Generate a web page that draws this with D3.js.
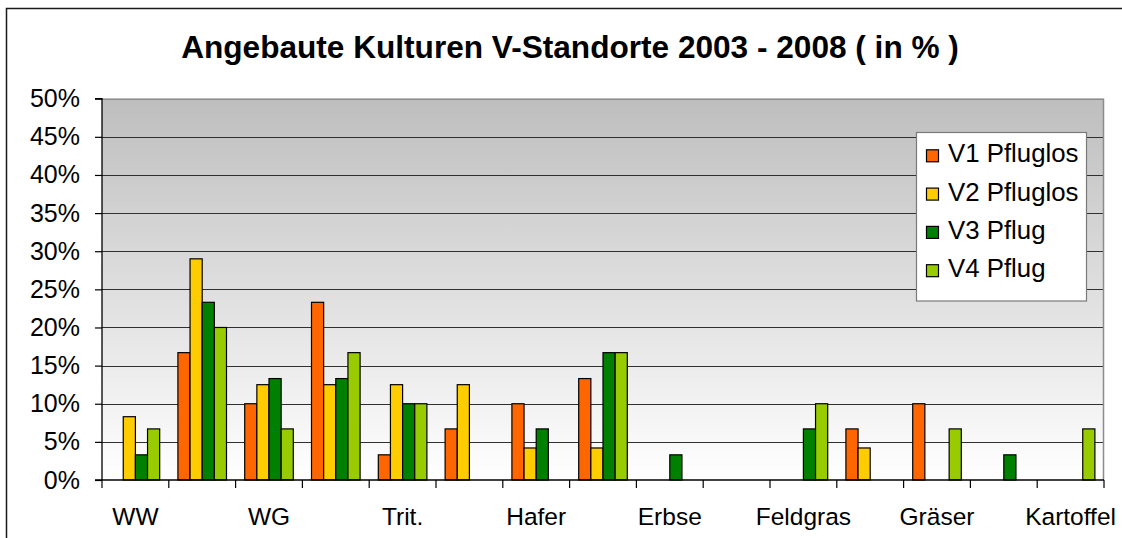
<!DOCTYPE html>
<html>
<head>
<meta charset="utf-8">
<script src="https://cdn.jsdelivr.net/npm/d3@7"></script>
<style>
  html, body { margin: 0; padding: 0; background: #fff; }
  svg { display: block; font-family: "Liberation Sans", Arial, sans-serif; }
</style>
</head>
<body>
<svg id="chart" width="1122" height="538"></svg>
<script>
// ---- data ----
// Only every other category label is shown in the reference; unlabeled slots are "".
const categories = ["WW", "", "WG", "", "Trit.", "", "Hafer", "", "Erbse", "", "Feldgras", "", "Gräser", "", "Kartoffel"];
const seriesNames = ["V1 Pfluglos", "V2 Pfluglos", "V3 Pflug", "V4 Pflug"];
const v1 = [0, 16.7, 10.0, 23.3, 3.3, 6.7, 10.0, 13.3, 0, 0, 0, 6.7, 10.0, 0, 0];
const v2 = [8.3, 29.0, 12.5, 12.5, 12.5, 12.5, 4.2, 4.2, 0, 0, 0, 4.2, 0, 0, 0];
const v3 = [3.3, 23.3, 13.3, 13.3, 10.0, 0, 6.7, 16.7, 3.3, 0, 6.7, 0, 0, 3.3, 0];
const v4 = [6.7, 20.0, 6.7, 16.7, 10.0, 0, 0, 16.7, 0, 0, 10.0, 0, 6.7, 0, 6.7];
const yTicks = [0, 5, 10, 15, 20, 25, 30, 35, 40, 45, 50];
const colors = ["#FF6600", "#FFCC00", "#008000", "#99CC00"];

const seriesValues = [v1, v2, v3, v4];
const title = "Angebaute Kulturen V-Standorte 2003 - 2008 ( in % )";

// ---- layout ----
const W = 1122, H = 538;
const plot = { left: 102, right: 1104, top: 98.7, bottom: 480 };

const svg = d3.select("#chart");

// gradient for plot background
const defs = svg.append("defs");
const grad = defs.append("linearGradient").attr("id", "bg")
  .attr("x1", 0).attr("y1", 0).attr("x2", 0).attr("y2", 1);
grad.append("stop").attr("offset", "0%").attr("stop-color", "#bebebe");
grad.append("stop").attr("offset", "100%").attr("stop-color", "#ffffff");

// outer chart border
svg.append("rect")
  .attr("x", 6.5).attr("y", 8.5)
  .attr("width", W + 20).attr("height", H + 20)
  .attr("fill", "#fff").attr("stroke", "#1a1a1a").attr("stroke-width", 1.5);

// title
svg.append("text")
  .attr("x", 570).attr("y", 57.5)
  .attr("text-anchor", "middle")
  .attr("font-size", 31.6).attr("font-weight", "bold").attr("fill", "#000")
  .text(title);

// scales
const idx = categories.map((d, i) => i);
const x0 = d3.scaleBand().domain(idx).range([plot.left, plot.right]).paddingInner(0).paddingOuter(0);
const x1 = d3.scaleBand().domain(d3.range(seriesNames.length)).range([0, x0.bandwidth()])
  .paddingInner(0).paddingOuter(0.75);
const y = d3.scaleLinear().domain([0, 50]).range([plot.bottom, plot.top]);

// plot background
svg.append("rect")
  .attr("x", plot.left).attr("y", plot.top)
  .attr("width", plot.right - plot.left).attr("height", plot.bottom - plot.top)
  .attr("fill", "url(#bg)");

// gridlines
svg.append("g").selectAll("line")
  .data(yTicks.filter(t => t > 0 && t < 50))
  .join("line")
  .attr("x1", plot.left).attr("x2", plot.right)
  .attr("y1", d => Math.round(y(d)) + 0.5).attr("y2", d => Math.round(y(d)) + 0.5)
  .attr("stroke", "#303030").attr("stroke-width", 1);

// plot border (top & right gray)
svg.append("path")
  .attr("d", `M${plot.left},${plot.top + 0.5}H${plot.right - 0.5}V${plot.bottom}`)
  .attr("fill", "none").attr("stroke", "#8c8c8c").attr("stroke-width", 1.5);

// bars
const barData = [];
seriesValues.forEach((vals, s) => vals.forEach((v, i) => { if (v > 0) barData.push({ s, i, v }); }));
svg.append("g").selectAll("rect")
  .data(barData)
  .join("rect")
  .attr("x", d => x0(d.i) + x1(d.s))
  .attr("y", d => y(d.v))
  .attr("width", x1.bandwidth())
  .attr("height", d => y(0) - y(d.v))
  .attr("fill", d => colors[d.s])
  .attr("stroke", "#000").attr("stroke-width", 1.2);

// y axis
const yAxis = d3.axisLeft(y).tickValues(yTicks).tickSize(7).tickPadding(15)
  .tickFormat(d => d + "%");
const gy = svg.append("g").attr("transform", `translate(${plot.left},0)`).call(yAxis);
gy.select(".domain").attr("stroke", "#000").attr("stroke-width", 1.3).attr("d", `M-7,${plot.top}H0V${plot.bottom}`);
gy.selectAll(".tick line").attr("stroke", "#000").attr("stroke-width", 1.2);
gy.selectAll(".tick text").attr("font-size", 25).attr("fill", "#000")
  .attr("font-family", '"Liberation Sans", Arial, sans-serif');

// x axis line + boundary ticks
const gx = svg.append("g");
gx.append("line")
  .attr("x1", plot.left - 7).attr("x2", plot.right)
  .attr("y1", plot.bottom).attr("y2", plot.bottom)
  .attr("stroke", "#000").attr("stroke-width", 1.3);
const bounds = idx.map(i => x0(i)).concat([x0(idx[idx.length - 1]) + x0.bandwidth()]);
gx.selectAll("line.tk").data(bounds).join("line").attr("class", "tk")
  .attr("x1", d => d).attr("x2", d => d)
  .attr("y1", plot.bottom).attr("y2", plot.bottom + 8)
  .attr("stroke", "#000").attr("stroke-width", 1.2);
gx.selectAll("text").data(idx.filter(i => categories[i] !== "")).join("text")
  .attr("x", i => x0(i) + x0.bandwidth() / 2)
  .attr("y", 525)
  .attr("text-anchor", "middle")
  .attr("font-size", 24.5).attr("fill", "#000")
  .text(i => categories[i]);

// legend
const lg = svg.append("g");
lg.append("rect")
  .attr("x", 916.5).attr("y", 132.5).attr("width", 170).attr("height", 168.5)
  .attr("fill", "#fff").attr("stroke", "#7a7a7a").attr("stroke-width", 1.2);
seriesNames.forEach((name, s) => {
  const by = 162.3 + s * 38.3;
  lg.append("rect")
    .attr("x", 926.5).attr("y", by - 12.5).attr("width", 12).attr("height", 12)
    .attr("fill", colors[s]).attr("stroke", "#000").attr("stroke-width", 1.2);
  lg.append("text")
    .attr("x", 948).attr("y", by)
    .attr("font-size", 25.8).attr("fill", "#000")
    .text(name);
});
</script>
</body>
</html>
